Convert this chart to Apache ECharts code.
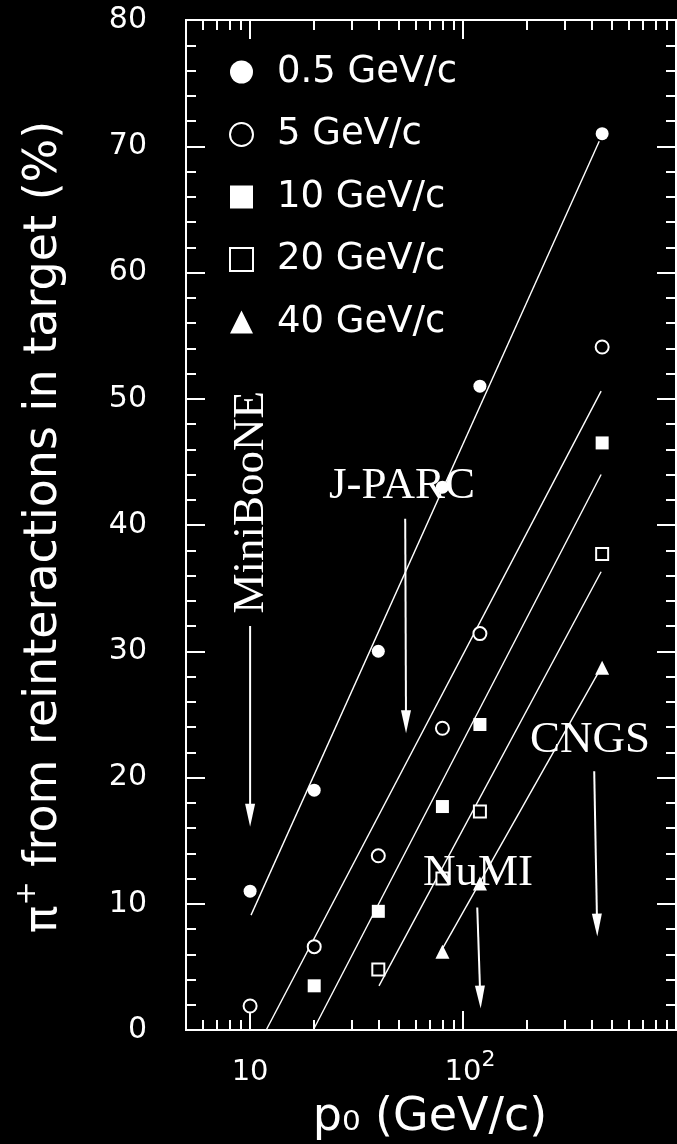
<!DOCTYPE html>
<html>
<head>
<meta charset="utf-8">
<script src="https://cdn.jsdelivr.net/npm/echarts@6/dist/echarts.min.js"></script>
<style>
html,body{margin:0;padding:0;background:#000;}
#chart{width:677px;height:1144px;}
</style>
</head>
<body>
<div id="chart"></div>
<script>
// ---------------- data ----------------
const seriesNames = ['0.5 GeV/c', '5 GeV/c', '10 GeV/c', '20 GeV/c', '40 GeV/c'];
// [p0 (GeV/c), % of pi+ from reinteractions]
const pts05 = [[10, 11.0], [20, 19.0], [40, 30.0], [80, 43.0], [120, 51.0], [450, 71.0]];
const pts5  = [[10, 1.9], [20, 6.6], [40, 13.8], [80, 23.9], [120, 31.4], [450, 54.1]];
const pts10 = [[20, 3.5], [40, 9.4], [80, 17.7], [120, 24.2], [450, 46.5]];
const pts20 = [[40, 4.8], [80, 12.0], [120, 17.3], [450, 37.7]];
const pts40 = [[80, 6.2], [120, 11.6], [450, 28.7]];
// fitted straight lines (end points)
const fit05 = [[10.1, 9.1], [436, 70.4]];
const fit5  = [[11.9, 0.0], [445, 50.6]];
const fit10 = [[19.8, 0.0], [445, 44.0]];
const fit20 = [[40.3, 3.5], [445, 36.3]];
const fit40 = [[80.4, 6.5], [435, 28.4]];
// axis ticks
const xMajorTicks = [10, 100, 1000];
const xMinorTicks = [5, 6, 7, 8, 9, 20, 30, 40, 50, 60, 70, 80, 90, 200, 300, 400, 500, 600, 700, 800, 900];
const xTickLabels = [10, 100];
const yMin = 0, yMax = 80, yStep = 10;
// beam annotations
const annNames = ['MiniBooNE', 'J-PARC', 'NuMI', 'CNGS'];
const annArrowTop = [[10, 32.0], [53.5, 40.5], [116.6, 9.7], [413, 20.5]];
const annArrowTip = [[10, 16.1], [54, 23.5], [121, 1.7], [427, 7.4]];
const annLabelAt  = [[10.16, 41.8], [51.7, 43.05], [117.6, 12.4], [394.5, 22.97]];
const annLabelVertical = [true, false, false, false];

// ---------------- chart ----------------
const W = '#ffffff';
const chart = echarts.init(document.getElementById('chart'), null, {renderer: 'canvas'});

const sansFont = 'DejaVu Sans';
const tickLine = {color: W, width: 2};

function xAxisBase(pos) {
  return {
    type: 'log', logBase: 10, min: 5, max: 1000, position: pos,
    axisLine: {show: false}, splitLine: {show: false}, minorTick: {show: false},
    axisLabel: {show: false}
  };
}
const xAxes = [
  Object.assign(xAxisBase('bottom'), {
    axisTick: {show: true, inside: true, length: 19, lineStyle: tickLine, customValues: xMajorTicks},
    axisLabel: {
      show: true, customValues: xTickLabels, margin: 27,
      formatter: function (v) {
        const e = Math.round(Math.log10(v));
        return e === 1 ? '{s|2}{a|10}{s|2}' : '{s|2}{a|10}{b|' + e + '}';
      },
      rich: {
        a: {fontFamily: sansFont, fontSize: 29, color: W, lineHeight: 30, verticalAlign: 'bottom'},
        b: {fontFamily: sansFont, fontSize: 22, color: W, lineHeight: 22, padding: [0, 0, 16, 0], verticalAlign: 'bottom'},
        s: {fontFamily: sansFont, fontSize: 22, color: 'rgba(0,0,0,0)', lineHeight: 22, padding: [0, 0, 16, 0], verticalAlign: 'bottom'}
      }
    }
  }),
  Object.assign(xAxisBase('bottom'), {
    axisTick: {show: true, inside: true, length: 10, lineStyle: tickLine, customValues: xMinorTicks}
  }),
  Object.assign(xAxisBase('top'), {
    axisTick: {show: true, inside: true, length: 19, lineStyle: tickLine, customValues: xMajorTicks}
  }),
  Object.assign(xAxisBase('top'), {
    axisTick: {show: true, inside: true, length: 10, lineStyle: tickLine, customValues: xMinorTicks}
  })
];

function yAxisBase(pos, labels) {
  return {
    type: 'value', min: yMin, max: yMax, interval: yStep, position: pos,
    axisLine: {show: false}, splitLine: {show: false},
    axisTick: {show: true, inside: true, length: 19, lineStyle: tickLine},
    minorTick: {show: true, splitNumber: 5, length: 10, lineStyle: tickLine},
    axisLabel: {show: labels, color: W, fontFamily: sansFont, fontSize: 30, margin: 39, padding: [8, 0, 0, 0]}
  };
}

const scatterCommon = {type: 'scatter', xAxisIndex: 0, yAxisIndex: 0, z: 5};
const series = [
  Object.assign({}, scatterCommon, {name: seriesNames[0], data: pts05, symbol: 'circle', symbolSize: 13,
    itemStyle: {color: W, opacity: 1}}),
  Object.assign({}, scatterCommon, {name: seriesNames[1], data: pts5, symbol: 'circle', symbolSize: 13,
    itemStyle: {color: '#000', borderColor: W, borderWidth: 2, opacity: 1}}),
  Object.assign({}, scatterCommon, {name: seriesNames[2], data: pts10, symbol: 'rect', symbolSize: 13,
    itemStyle: {color: W, opacity: 1}}),
  Object.assign({}, scatterCommon, {name: seriesNames[3], data: pts20, symbol: 'rect', symbolSize: 12,
    itemStyle: {color: '#000', borderColor: W, borderWidth: 2, opacity: 1}}),
  Object.assign({}, scatterCommon, {name: seriesNames[4], data: pts40, symbol: 'triangle', symbolSize: 14,
    itemStyle: {color: W, opacity: 1}})
];
[fit05, fit5, fit10, fit20, fit40].forEach(function (d, i) {
  series.push({
    type: 'line', name: 'fit ' + seriesNames[i], data: d, xAxisIndex: 0, yAxisIndex: 0,
    symbol: 'none', silent: true, z: 2, lineStyle: {color: W, width: 1.4}
  });
});
series.push({
  type: 'custom', name: 'beams', coordinateSystem: 'cartesian2d', xAxisIndex: 0, yAxisIndex: 0,
  clip: false, silent: true, z: 6,
  data: annNames.map(function (n, i) { return annArrowTop[i]; }),
  renderItem: function (params, api) {
    const i = params.dataIndex;
    const p1 = api.coord(annArrowTop[i]);
    const p2 = api.coord(annArrowTip[i]);
    const lp = api.coord(annLabelAt[i]);
    const dx = p2[0] - p1[0], dy = p2[1] - p1[1];
    const len = Math.sqrt(dx * dx + dy * dy);
    const ux = dx / len, uy = dy / len;
    const hl = 23, hw = 5;
    const bx = p2[0] - ux * hl, by = p2[1] - uy * hl;
    return {
      type: 'group',
      children: [
        {type: 'line', shape: {x1: p1[0], y1: p1[1], x2: bx + ux * 2, y2: by + uy * 2},
          style: {stroke: W, lineWidth: 2}},
        {type: 'polygon', shape: {points: [[p2[0], p2[1]], [bx - uy * hw, by + ux * hw], [bx + uy * hw, by - ux * hw]]},
          style: {fill: W}},
        {type: 'text', x: lp[0], y: lp[1], rotation: annLabelVertical[i] ? Math.PI / 2 : 0,
          style: {text: annNames[i], fill: W, font: '45px "Liberation Serif"', align: 'center', verticalAlign: 'middle'}}
      ]
    };
  }
});

const option = {
  backgroundColor: '#000',
  animation: false,
  grid: {left: 186, top: 20, right: 1, bottom: 114, show: true, borderColor: W, borderWidth: 2,
    backgroundColor: 'transparent', containLabel: false, outerBoundsMode: 'none'},
  legend: {
    data: seriesNames, orient: 'vertical', left: 229, top: 52, padding: 0,
    itemWidth: 23, itemHeight: 23, itemGap: 22.5, selectedMode: false,
    itemStyle: {opacity: 1},
    textStyle: {color: W, fontFamily: sansFont, fontSize: 37, lineHeight: 40, padding: [0, 0, 0, 19]}
  },
  xAxis: xAxes,
  yAxis: [yAxisBase('left', true), yAxisBase('right', false)],
  graphic: [
    {type: 'text', x: 41, y: 527, rotation: Math.PI / 2, silent: true,
      style: {
        text: '{a|π}{b|+}{a| from reinteractions in target (%)}',
        align: 'center', verticalAlign: 'middle', fill: W,
        rich: {
          a: {fontFamily: sansFont, fontSize: 46, fill: W, color: W, lineHeight: 52, verticalAlign: 'bottom'},
          b: {fontFamily: sansFont, fontSize: 29, fill: W, color: W, lineHeight: 29, padding: [0, 0, 25, 0], verticalAlign: 'bottom'}
        }
      }},
    {type: 'text', x: 430, y: 1118, silent: true,
      style: {text: 'p₀ (GeV/c)', font: '46px "DejaVu Sans"', fill: W, align: 'center', verticalAlign: 'middle'}}
  ],
  series: series
};
chart.setOption(option);
</script>
</body>
</html>
